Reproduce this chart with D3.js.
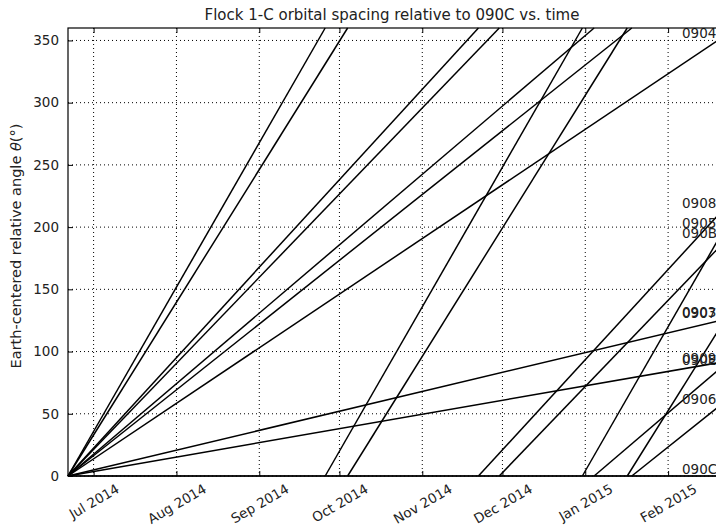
<!DOCTYPE html>
<html>
<head>
<meta charset="utf-8">
<script src="https://cdn.jsdelivr.net/npm/d3@7"></script>
<style>
  body { margin: 0; background: #fff; }
  svg { display: block; font-family: "DejaVu Sans", sans-serif; }
  .grid line { stroke: #000; stroke-dasharray: 1,3; stroke-width: 1; }
  .sat { fill: none; stroke: #000; stroke-width: 1.5; }
</style>
</head>
<body>
<script>
// chart data
var title = "Flock 1-C orbital spacing relative to 090C vs. time";
var yTicks = [0, 50, 100, 150, 200, 250, 300, 350];
var xTicks = ["2014-07-01", "2014-08-01", "2014-09-01", "2014-10-01",
              "2014-11-01", "2014-12-01", "2015-01-01", "2015-02-01"];
var timeSpan = ["2014-06-21T10:00", "2015-02-24T04:00"];

// each satellite: pieces of the angle track between wraps at 360 deg
var sat0905 = [[["2014-06-21T10:00", 0], ["2014-09-25T16:00", 360]],
               [["2014-09-25T16:00", 0], ["2014-12-30T22:00", 360]],
               [["2014-12-30T22:00", 0], ["2015-02-22T10:00", 200]]];
var sat0907 = [[["2014-06-21T10:00", 0], ["2014-10-04T01:36", 360]],
               [["2014-10-04T01:36", 0], ["2015-01-16T17:12", 360]],
               [["2015-01-16T17:12", 0], ["2015-02-22T10:00", 126]]];
var sat0908 = [[["2014-06-21T10:00", 0], ["2014-11-22T00:24", 360]],
               [["2014-11-22T00:24", 0], ["2015-02-22T10:00", 216]]];
var sat090B = [[["2014-06-21T10:00", 0], ["2014-11-29T19:36", 360]],
               [["2014-11-29T19:36", 0], ["2015-02-22T10:00", 189]]];
var sat090E = [[["2014-06-21T10:00", 0], ["2015-01-04T07:36", 360]],
               [["2015-01-04T07:36", 0], ["2015-02-22T10:00", 90]]];
var sat0906 = [[["2014-06-21T10:00", 0], ["2015-01-18T10:00", 360]],
               [["2015-01-18T10:00", 0], ["2015-02-22T10:00", 60]]];
var sat0904 = [[["2014-06-21T10:00", 0], ["2015-02-22T10:00", 354]]];
var sat0903 = [[["2014-06-21T10:00", 0], ["2015-02-22T10:00", 126]]];
var sat0909 = [[["2014-06-21T10:00", 0], ["2015-02-22T10:00", 92]]];
var sat090C = [[["2014-06-21T10:00", 0], ["2015-02-22T10:00", 0]]];

var tracks = [sat0905, sat0907, sat0908, sat090B, sat090E, sat0906,
              sat0904, sat0903, sat0909, sat090C];

// end labels
var labelNames  = ["0904", "0908", "0905", "090B", "0903", "0907", "0909", "090E", "0906", "090C"];
var labelAngles = [352, 215, 199, 191, 128, 127, 91, 89, 58, 2];
var labelDate = "2015-02-06T05:00";

var width = 716, height = 530;
var mLeft = 68, mRight = 730, mTop = 28, mBottom = 476;
var fs = 13.5;

var parse = d3.isoParse;

var svg = d3.select("body").append("svg")
  .attr("width", width)
  .attr("height", height);

var x = d3.scaleTime()
  .domain(timeSpan.map(parse))
  .range([mLeft, mRight]);

var y = d3.scaleLinear()
  .domain([0, 360])
  .range([mBottom, mTop]);

// grid
var grid = svg.append("g").attr("class", "grid");
grid.selectAll(".gx")
  .data(xTicks)
  .enter().append("line")
  .attr("x1", function(d){ return x(parse(d)); })
  .attr("x2", function(d){ return x(parse(d)); })
  .attr("y1", mTop)
  .attr("y2", mBottom);
grid.selectAll(".gy")
  .data(yTicks)
  .enter().append("line")
  .attr("x1", mLeft)
  .attr("x2", mRight)
  .attr("y1", function(d){ return y(d); })
  .attr("y2", function(d){ return y(d); });

// satellite tracks
var line = d3.line()
  .x(function(d){ return x(parse(d[0])); })
  .y(function(d){ return y(d[1]); });

var plot = svg.append("g");
tracks.forEach(function(t){
  plot.selectAll(null)
    .data(t)
    .enter().append("path")
    .attr("class", "sat")
    .attr("d", line);
});

// end labels
svg.selectAll(".lab")
  .data(labelNames)
  .enter().append("text")
  .attr("x", x(parse(labelDate)))
  .attr("y", function(d, i){ return y(labelAngles[i]); })
  .attr("font-size", fs)
  .attr("fill", "#222")
  .text(function(d){ return d; });

// frame
svg.append("rect")
  .attr("x", mLeft).attr("y", mTop)
  .attr("width", mRight - mLeft).attr("height", mBottom - mTop)
  .attr("fill", "none").attr("stroke", "#000").attr("stroke-width", 1.2);

// axes, ticks pointing inward
var xAxis = d3.axisBottom(x)
  .tickValues(xTicks.map(parse))
  .tickSizeInner(-5).tickSizeOuter(0)
  .tickFormat(d3.timeFormat("%b %Y"));
var gx = svg.append("g")
  .attr("transform", "translate(0," + mBottom + ")")
  .call(xAxis);
gx.select(".domain").remove();
// rotated 30 deg, box centred under the tick, top of box just below axis
gx.selectAll("text")
  .attr("font-size", fs)
  .attr("font-family", "DejaVu Sans")
  .attr("fill", "#222")
  .attr("text-anchor", "middle")
  .attr("x", 0)
  .attr("y", 0)
  .attr("dy", "0.35em")
  .attr("transform", function(){
    var L = this.getComputedTextLength();
    var H = L * 0.5 + fs * 0.95 * 0.866;
    return "translate(0," + (6 + H / 2) + ") rotate(-30)";
  });

svg.append("g")
  .attr("transform", "translate(0," + mTop + ")")
  .call(d3.axisTop(x).tickValues(xTicks.map(parse)).tickSizeInner(-5).tickSizeOuter(0).tickFormat(""))
  .select(".domain").remove();

var yAxis = d3.axisLeft(y)
  .tickValues(yTicks)
  .tickSizeInner(-5).tickSizeOuter(0)
  .tickPadding(9);
var gy = svg.append("g")
  .attr("transform", "translate(" + mLeft + ",0)")
  .call(yAxis);
gy.select(".domain").remove();
gy.selectAll("text")
  .attr("font-size", fs)
  .attr("font-family", "DejaVu Sans")
  .attr("fill", "#222");
svg.selectAll(".tick line").attr("stroke", "#000");

// titles
svg.append("text")
  .attr("x", 392)
  .attr("y", 20)
  .attr("text-anchor", "middle")
  .attr("font-size", 15)
  .attr("fill", "#222")
  .text(title);

var yl = svg.append("text")
  .attr("transform", "translate(21,246) rotate(-90)")
  .attr("text-anchor", "middle")
  .attr("font-size", 14.5)
  .attr("fill", "#222");
yl.append("tspan").text("Earth-centered relative angle ");
yl.append("tspan").attr("font-style", "italic").text("θ");
yl.append("tspan").text("(°)");
</script>
</body>
</html>
